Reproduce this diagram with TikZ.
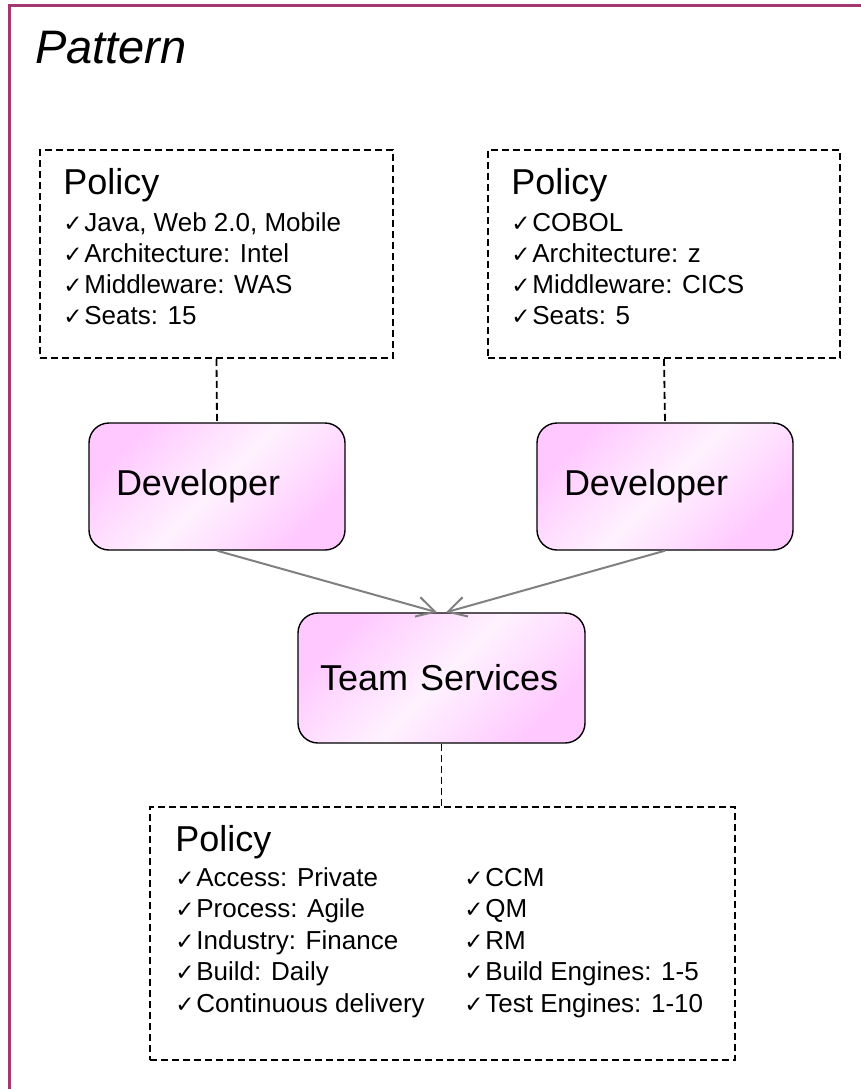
\documentclass[tikz,border=0pt]{standalone}
\usepackage{fontspec}
\setmainfont{Liberation Sans}
\newfontfamily\chkfont{DejaVu Sans}
\usetikzlibrary{arrows.meta,positioning,calc}
\definecolor{framered}{RGB}{165,55,115}
\definecolor{boxpink}{RGB}{255,200,255}
\definecolor{boxlight}{RGB}{255,242,255}
\pgfdeclarehorizontalshading{boxshade}{100bp}{color(0bp)=(boxpink); color(25bp)=(boxpink);
  color(50bp)=(boxlight); color(75bp)=(boxpink); color(100bp)=(boxpink)}
\newcommand{\chk}{\makebox[21pt][l]{\chkfont\fontsize{23}{23}\selectfont ✓}}
\tikzset{
  policy/.style={draw, line width=1.6pt, dash pattern=on 7pt off 4pt},
  ptitle/.style={anchor=base west, inner sep=0pt, font=\fontsize{36}{36}\selectfont},
  pitem/.style={anchor=base west, inner sep=0pt, font=\fontsize{26}{31}\selectfont},
  role/.style={draw, line width=1.4pt, rounded corners=20pt, shading=boxshade,
    shading angle=-45, align=left, font=\fontsize{36}{36}\selectfont},
  link/.style={line width=1.8pt, dash pattern=on 7pt off 4pt},
  flow/.style={draw=gray, line width=2pt, -{Straight Barb[length=18pt,width=20pt]}}
}
\begin{document}
\begin{tikzpicture}[x=1pt,y=-1pt]
  \useasboundingbox (0,0) rectangle (861,1089);
  \draw[framered, line width=3pt] (9,1089) -- (9,6) -- (861,6);
  \node[anchor=base west, inner sep=0pt, font=\fontsize{47}{47}\selectfont\itshape]
    (title) at (35,64) {Pattern};
  % policy boxes on top
  \node[policy, minimum width=353pt, minimum height=208pt] (polA) at (216.5,254) {};
  \node[policy, minimum width=352pt, minimum height=208pt] (polB) at (664,254) {};
  \node[ptitle] (polA-t) at ($(polA.north west)+(24,45)$) {Policy};
  \node[ptitle] (polB-t) at ($(polB.north west)+(24,45)$) {Policy};
  \foreach \txt [count=\i] in {{Java, Web 2.0, Mobile},{Architecture: Intel},
      {Middleware: WAS},{Seats: 15}}
    \node[pitem] (polA-\i) at ($(polA-t.base west)+(0,6+31*\i)$) {\chk\txt};
  \foreach \txt [count=\i] in {COBOL,{Architecture: z},{Middleware: CICS},{Seats: 5}}
    \node[pitem] (polB-\i) at ($(polB-t.base west)+(0,6+31*\i)$) {\chk\txt};
  % roles
  \node[role, minimum width=256pt, minimum height=127pt, inner xsep=27pt, text width=202pt]
    (devA) at (217,486.5) {Developer};
  \node[role, minimum width=256pt, minimum height=127pt, inner xsep=27pt, text width=202pt]
    (devB) at (665,486.5) {Developer};
  \node[role, minimum width=287pt, minimum height=130pt, inner xsep=22pt, text width=243pt]
    (team) at (441.5,678) {Team Services};
  % policy box at the bottom
  \node[policy, minimum width=585pt, minimum height=253pt] (polC) at (442.5,933.5) {};
  \node[ptitle] (polC-t) at ($(polC.north west)+(26,45)$) {Policy};
  \foreach \txt [count=\i] in {{Access: Private},{Process: Agile},{Industry: Finance},
      {Build: Daily},{Continuous delivery}}
    \node[pitem] (polC-\i) at ($(polC-t.base west)+(0,3.5+31.5*\i)$) {\chk\txt};
  \foreach \txt [count=\i] in {CCM,QM,RM,{Build Engines: 1-5},{Test Engines: 1-10}}
    \node[pitem] (polC-r\i) at ($(polC-t.base west)+(289,3.5+31.5*\i)$) {\chk\txt};
  % connectors
  \draw[link] (polA.south) -- (devA.north);
  \draw[link] (polB.south) -- (devB.north);
  \draw[link] (team.south) -- (team.south |- polC.north);
  \draw[flow] (devA.south) -- ([xshift=-4.5pt]team.north);
  \draw[flow] (devB.south) -- ([xshift=4.5pt]team.north);
\end{tikzpicture}
\end{document}
